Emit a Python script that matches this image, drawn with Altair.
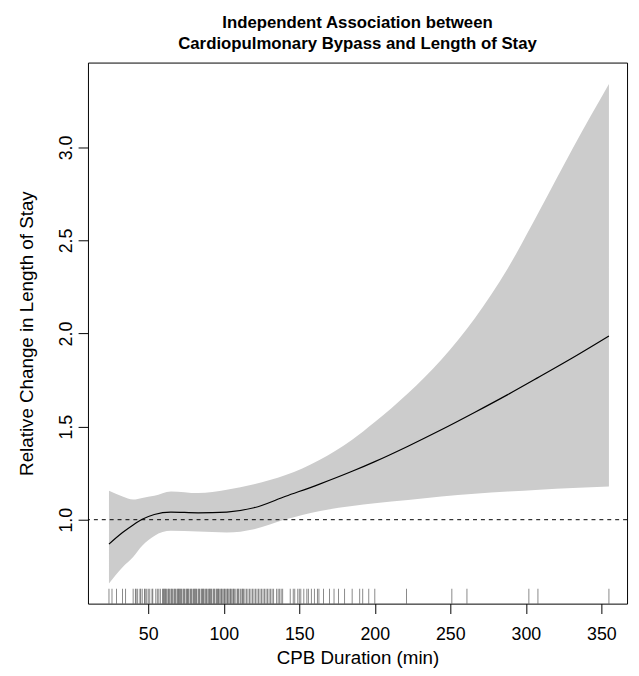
import altair as alt
import pandas as pd

# ---- data ----
curve_x = [24, 33, 40, 46, 54, 65, 83, 102, 120, 141, 163, 185, 200, 222, 244, 266, 288, 309, 331, 355]
fit =     [0.869, 0.931, 0.972, 1.002, 1.028, 1.041, 1.037, 1.041, 1.064, 1.126, 1.190, 1.260, 1.312, 1.395, 1.483, 1.576, 1.672, 1.768, 1.870, 1.987]
lower =   [0.657, 0.745, 0.800, 0.860, 0.913, 0.940, 0.936, 0.931, 0.949, 1.002, 1.046, 1.073, 1.088, 1.106, 1.124, 1.139, 1.151, 1.161, 1.170, 1.179]
upper =   [1.155, 1.125, 1.108, 1.117, 1.128, 1.152, 1.143, 1.161, 1.191, 1.240, 1.320, 1.430, 1.525, 1.680, 1.860, 2.080, 2.350, 2.660, 2.995, 3.341]

rug_x = [24, 26, 29, 33, 35, 40, 41.5, 42, 43, 44.5, 45, 46, 47.5, 48, 49, 50, 51, 52.5, 53,
         55, 56, 57, 58, 59.5, 60, 60.5, 61, 61.5, 62, 63, 63.5, 64, 65, 65.5, 66, 67, 67.5,
         68, 69, 69.5, 70, 70.5, 71, 71.5, 72, 73, 73.5, 74, 75, 75.5, 76, 76.5, 77, 78,
         78.5, 79, 80, 80.5, 81, 81.5, 82, 83, 83.5, 84, 85, 85.5, 86, 86.5, 87, 88, 88.5,
         89, 90, 90.5, 91, 91.5, 92, 93, 93.5, 94, 95, 95.5, 96, 96.5, 97, 98, 98.5, 99,
         100, 100.5, 101, 102, 102.5, 103, 104, 104.5, 105, 106, 106.5, 107, 108, 109,
         109.5, 110, 111, 112, 112.5, 113, 114, 115, 116, 117, 118, 119, 120, 121, 122,
         123, 124, 125, 126, 127, 128, 129, 130, 131, 132, 133, 135, 136, 137, 138, 139,
         144, 146, 147, 149, 150, 151, 153, 155, 156, 158, 160, 162, 163, 166, 170, 173,
         176, 180, 185, 190, 192, 196, 200, 221, 251, 261, 302, 308, 355]

x_ticks = [50, 100, 150, 200, 250, 300, 350]
y_ticks = [1.0, 1.5, 2.0, 2.5, 3.0]
ref_level = [1.0]
title_lines = ["Independent Association between", "Cardiopulmonary Bypass and Length of Stay"]
x_title = "CPB Duration (min)"
y_title = "Relative Change in Length of Stay"

df = pd.DataFrame({"x": curve_x, "fit": fit, "lo": lower, "hi": upper})
rug = pd.DataFrame({"x": rug_x})
ref = pd.DataFrame({"y": ref_level})

FONT = "Liberation Sans"
W, H = 546, 548

xscale = alt.Scale(domain=[10.1, 367], nice=False, zero=False)
yscale = alt.Scale(domain=[0.549, 3.456], nice=False, zero=False)

xaxis = alt.Axis(values=x_ticks, title=x_title, tickSize=10, tickColor="black",
                 labelFontSize=18, labelPadding=12, labelColor="black", labelFont=FONT,
                 titleFontSize=19, titleFont=FONT, titleFontWeight="normal", titleColor="black",
                 titleY=61, titleBaseline="alphabetic", domain=False, grid=False, format="d")
yaxis = alt.Axis(values=y_ticks, title=y_title, tickSize=10, tickColor="black",
                 labelFontSize=18, labelPadding=7, labelColor="black", labelFont=FONT,
                 labelAngle=270, labelAlign="center", labelBaseline="alphabetic",
                 titleFontSize=19, titleFont=FONT, titleFontWeight="normal", titleColor="black",
                 titleAngle=270, titleX=-56, titleY=H / 2, titleAlign="center",
                 titleBaseline="alphabetic", domain=False, grid=False, format=".1f")

band = alt.Chart(df).mark_area(color="#cccccc", interpolate="monotone").encode(
    x=alt.X("x:Q", scale=xscale, axis=xaxis),
    y=alt.Y("lo:Q", scale=yscale, axis=yaxis),
    y2="hi:Q",
)
line = alt.Chart(df).mark_line(color="black", strokeWidth=1.2, interpolate="monotone").encode(
    x=alt.X("x:Q", scale=xscale),
    y=alt.Y("fit:Q", scale=yscale),
)
dashed = alt.Chart(ref).mark_rule(color="black", strokeWidth=1, strokeDash=[4, 4]).encode(
    y=alt.Y("y:Q", scale=yscale),
)
rugs = alt.Chart(rug).mark_tick(orient="vertical", size=15, thickness=0.9, color="#444444").encode(
    x=alt.X("x:Q", scale=xscale),
    y=alt.value(H - 7.5),
)

chart = alt.layer(band, line, dashed, rugs).properties(
    width=W, height=H,
    title=alt.Title(title_lines, font=FONT, fontSize=17, fontWeight="bold", color="black",
                    anchor="middle", offset=10, lineHeight=21),
    autosize=alt.AutoSizeParams(type="none"),
    padding={"left": 81, "top": 51, "right": 4, "bottom": 68},
).configure_view(stroke="black", strokeWidth=1)

chart.save("out.html", embed_options={"renderer": "svg", "actions": False})
